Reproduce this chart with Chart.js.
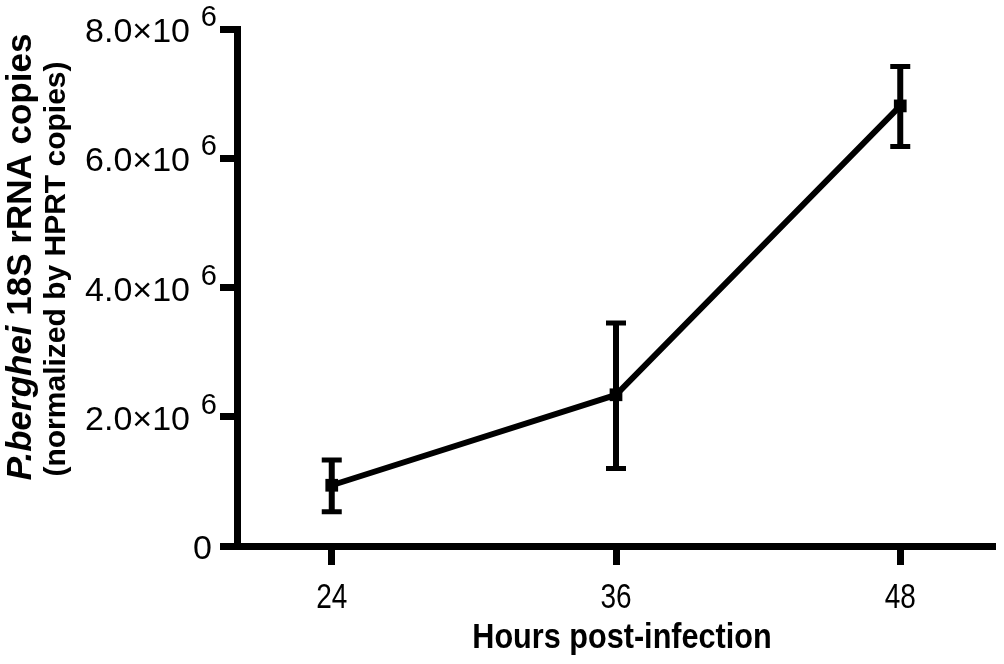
<!DOCTYPE html>
<html>
<head>
<meta charset="utf-8">
<script src="https://cdn.jsdelivr.net/npm/chart.js@4/dist/chart.umd.min.js"></script>
<style>
  html, body { margin: 0; padding: 0; background: #fff; }
  canvas { display: block; }
</style>
</head>
<body>
<canvas id="chart" width="1004" height="664"></canvas>
<script>
// data
const hours = [24, 36, 48];
const meanCopies = [0.94e6, 2.34e6, 6.81e6];
const upperCopies = [1.33e6, 3.45e6, 7.42e6];
const lowerCopies = [0.53e6, 1.20e6, 6.18e6];

const xTickValues = [24, 36, 48];
const xTickLabels = ['24', '36', '48'];
const yTickValues = [0, 2e6, 4e6, 6e6, 8e6];
const yTickLabels = ['0', '2.0×10', '4.0×10', '6.0×10', '8.0×10'];
const yTickExponents = ['', '6', '6', '6', '6'];

const yTitleItalic = 'P.berghei';
const yTitleRest = ' 18S rRNA copies';
const yTitleLine2 = '(normalized by HPRT copies)';
const xTitle = 'Hours post-infection';

const FONT = '"Liberation Sans", Arial, sans-serif';

// error bars
const errorBars = {
  id: 'errorBars',
  afterDatasetsDraw(chart) {
    const ctx = chart.ctx;
    const xs = chart.scales.x, ys = chart.scales.y;
    ctx.save();
    ctx.strokeStyle = '#000';
    hours.forEach((h, i) => {
      const x = xs.getPixelForValue(h);
      const yTop = ys.getPixelForValue(upperCopies[i]);
      const yBot = ys.getPixelForValue(lowerCopies[i]);
      ctx.lineWidth = 6;
      ctx.beginPath();
      ctx.moveTo(x, yTop);
      ctx.lineTo(x, yBot);
      ctx.stroke();
      ctx.lineWidth = 5;
      ctx.beginPath();
      ctx.moveTo(x - 10, yTop);
      ctx.lineTo(x + 10, yTop);
      ctx.moveTo(x - 10, yBot);
      ctx.lineTo(x + 10, yBot);
      ctx.stroke();
    });
    ctx.restore();
  }
};

// tick labels (narrow x, y with raised exponent) and axis titles
const axisText = {
  id: 'axisText',
  afterDraw(chart) {
    const ctx = chart.ctx;
    const xs = chart.scales.x, ys = chart.scales.y;
    ctx.save();
    ctx.fillStyle = '#000';

    // y ticks
    ctx.textAlign = 'right';
    ctx.textBaseline = 'alphabetic';
    yTickValues.forEach((v, i) => {
      const y = ys.getPixelForValue(v);
      const exp = yTickExponents[i];
      ctx.font = '34px ' + FONT;
      ctx.fillText(yTickLabels[i], exp ? 190 : 212, y + 13);
      if (exp) {
        ctx.font = '29px ' + FONT;
        ctx.fillText(exp, 217, y - 3);
      }
    });

    // x ticks, condensed
    ctx.textAlign = 'center';
    ctx.font = '35px ' + FONT;
    xTickValues.forEach((v, i) => {
      ctx.save();
      ctx.translate(xs.getPixelForValue(v), 608);
      ctx.scale(0.8, 1);
      ctx.fillText(xTickLabels[i], 0, 0);
      ctx.restore();
    });

    // x title, condensed bold
    ctx.save();
    ctx.translate(622, 648);
    ctx.scale(0.875, 1);
    ctx.font = 'bold 35px ' + FONT;
    ctx.fillText(xTitle, 0, 0);
    ctx.restore();

    // y title line 1, mixed italic
    ctx.textAlign = 'left';
    ctx.save();
    ctx.translate(31, 257);
    ctx.rotate(-Math.PI / 2);
    const fItalic = 'italic bold 35px ' + FONT;
    const fBold = 'bold 35px ' + FONT;
    ctx.font = fItalic;
    const w1 = ctx.measureText(yTitleItalic).width;
    ctx.font = fBold;
    const w2 = ctx.measureText(yTitleRest).width;
    const start = -(w1 + w2) / 2;
    ctx.font = fItalic;
    ctx.fillText(yTitleItalic, start, 0);
    ctx.font = fBold;
    ctx.fillText(yTitleRest, start + w1, 0);
    ctx.restore();

    // y title line 2
    ctx.save();
    ctx.translate(65, 269);
    ctx.rotate(-Math.PI / 2);
    ctx.font = 'bold 30px ' + FONT;
    ctx.textAlign = 'center';
    ctx.fillText(yTitleLine2, 0, 0);
    ctx.restore();

    ctx.restore();
  }
};

const ctx = document.querySelector('#chart').getContext('2d');
new Chart(ctx, {
  type: 'line',
  data: {
    datasets: [{
      data: hours.map((h, i) => ({ x: h, y: meanCopies[i] })),
      borderColor: '#000',
      borderWidth: 6,
      backgroundColor: '#000',
      pointStyle: 'rect',
      pointRadius: 9,
      pointBorderWidth: 0,
      pointBackgroundColor: '#000',
      tension: 0,
      clip: false
    }]
  },
  options: {
    responsive: false,
    animation: false,
    devicePixelRatio: 1,
    layout: {
      padding: { left: 0, right: 6, top: 29, bottom: 0 }
    },
    plugins: {
      legend: { display: false },
      tooltip: { enabled: false }
    },
    scales: {
      x: {
        type: 'linear',
        position: 'bottom',
        min: 20,
        max: 52,
        afterBuildTicks: (scale) => {
          scale.ticks = xTickValues.map(v => ({ value: v }));
        },
        afterFit: (scale) => { scale.height = 118; },
        grid: {
          drawOnChartArea: false,
          drawTicks: true,
          tickLength: 19,
          tickWidth: 7,
          tickColor: '#000',
          color: '#000'
        },
        border: { display: true, width: 7, color: '#000' },
        ticks: { display: false }
      },
      y: {
        min: 0,
        max: 8e6,
        afterBuildTicks: (scale) => {
          scale.ticks = yTickValues.map(v => ({ value: v }));
        },
        afterFit: (scale) => { scale.width = 237; },
        grid: {
          drawOnChartArea: false,
          drawTicks: true,
          tickLength: 17,
          tickWidth: 7,
          tickColor: '#000',
          color: '#000'
        },
        border: { display: true, width: 7, color: '#000' },
        ticks: { display: false }
      }
    }
  },
  plugins: [errorBars, axisText]
});
</script>
</body>
</html>
